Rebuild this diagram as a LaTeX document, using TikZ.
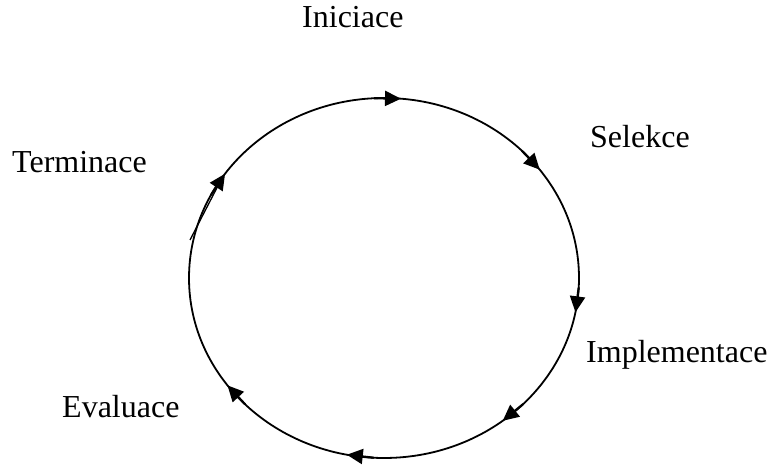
\documentclass[tikz,border=0pt]{standalone}
\usepackage{fontspec}
\setmainfont{Liberation Serif}
\usetikzlibrary{arrows.meta,calc}
\begin{document}
\begin{tikzpicture}[x=1pt,y=-1pt,
  lbl/.style={anchor=base west,inner sep=0pt,font=\fontsize{32}{38}\selectfont},
  cyc/.style={line width=1.8pt},
  tipseg/.style={line width=2.2pt,-{Triangle[length=16pt,width=15pt]}}]
\useasboundingbox (0,0) rectangle (769,465);
\coordinate (c) at (384,278);
\draw[cyc] (c) ellipse [x radius=195pt, y radius=180pt];
\foreach \t in {85,37,-11,-52.5,-101,-143.4,144.6}
  \draw[tipseg] ($(c)+({195*cos(\t+8)},{-180*sin(\t+8)})$) -- ($(c)+({195*cos(\t)},{-180*sin(\t)})$);
\coordinate (ds) at (190,240);
\coordinate (de) at ($(c)+({195*cos(146)},{-180*sin(146)})$);
\draw[line width=1.3pt] (ds) -- (de);
\node[lbl] (ini) at (302,28) {Iniciace};
\node[lbl] (sel) at (590,148) {Selekce};
\node[lbl] (imp) at (586,362) {Implementace};
\node[lbl] (eva) at (62,417) {Evaluace};
\node[lbl] (ter) at (12,173) {Terminace};
\end{tikzpicture}
\end{document}
